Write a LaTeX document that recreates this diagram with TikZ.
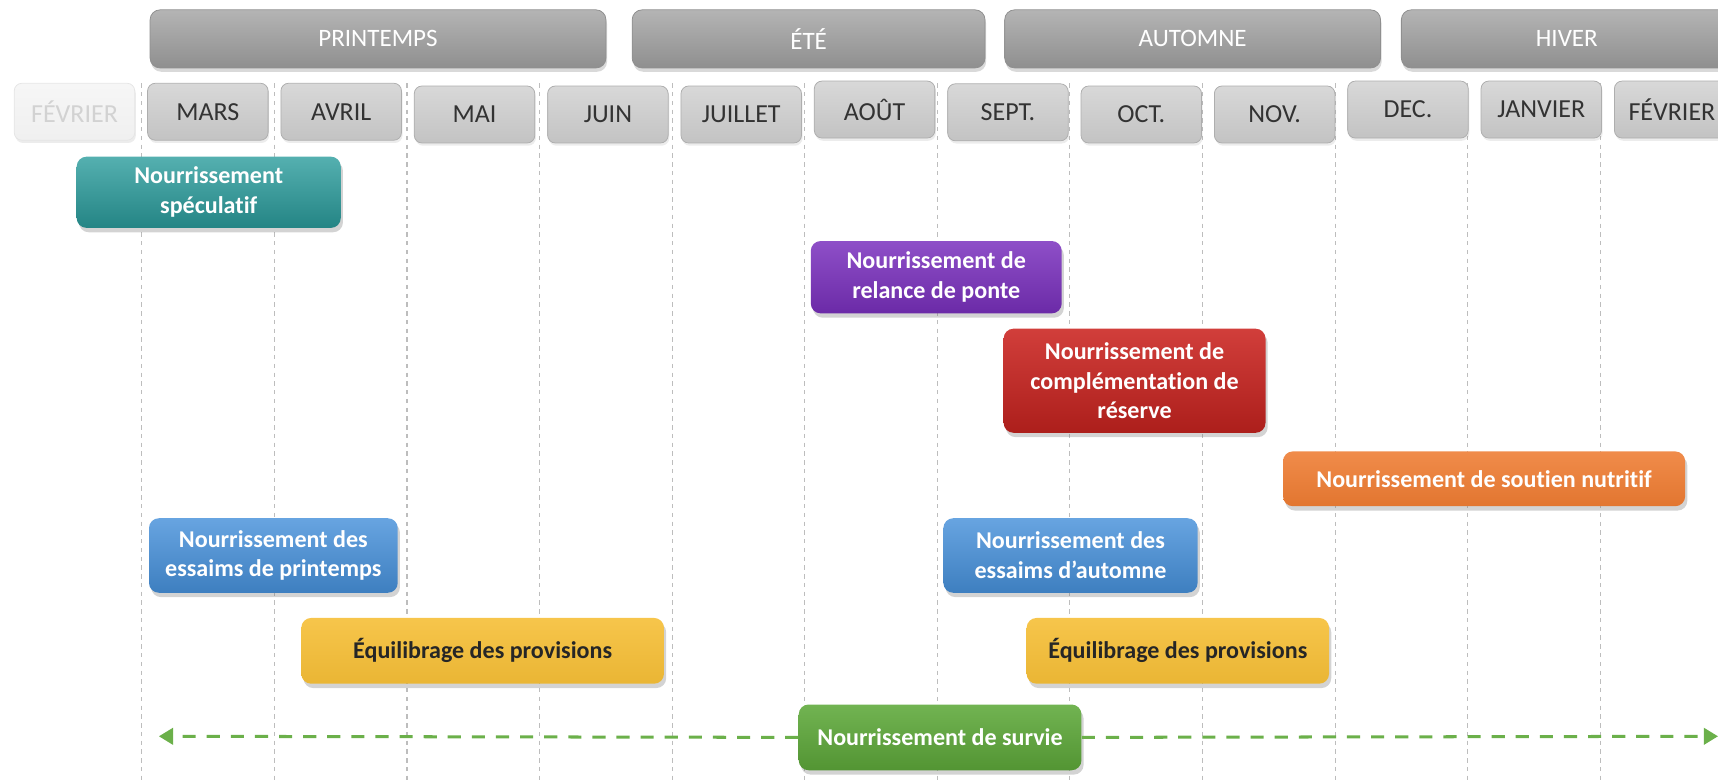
\documentclass[tikz,border=0pt]{standalone}
\usepackage{fontspec}
\setmainfont{Carlito}[Ligatures=NoCommon]
\usetikzlibrary{positioning,arrows.meta,shadows}

\definecolor{saisonhaut}{HTML}{B4B4B4}
\definecolor{saisonbas}{HTML}{8F8F8F}
\definecolor{moishaut}{HTML}{D8D8D8}
\definecolor{moisbas}{HTML}{C3C3C3}
\definecolor{moisbord}{HTML}{AEAEAE}
\definecolor{gristexte}{HTML}{333333}
\definecolor{grisgrille}{HTML}{BDBDBD}
\definecolor{sarcelle}{HTML}{2A9C9C}
\definecolor{violet}{HTML}{7A30BE}
\definecolor{rouge}{HTML}{CB2420}
\definecolor{orange}{HTML}{EE7C32}
\definecolor{bleu}{HTML}{4690DA}
\definecolor{jaune}{HTML}{F6BF37}
\definecolor{vert}{HTML}{5EA93A}
\definecolor{vertfleche}{HTML}{6BB04A}

\begin{document}
\begin{tikzpicture}[x=0.2mm,y=-0.2mm,
	saison/.style={rounded corners=1.8mm,top color=saisonhaut,bottom color=saisonbas,draw=saisonbas,
		minimum height=10.6mm,inner sep=0pt,drop shadow={shadow xshift=0.2mm,shadow yshift=-0.7mm,opacity=0.3}},
	mois/.style={rounded corners=1.4mm,top color=moishaut,bottom color=moisbas,draw=moisbord,text=gristexte,
		minimum width=22mm,minimum height=10.4mm,inner sep=0pt,font=\fontsize{13.5}{15}\selectfont,
		drop shadow={shadow xshift=0.2mm,shadow yshift=-0.5mm,opacity=0.15}},
	action/.style={rounded corners=1.8mm,text=white,align=center,inner sep=0pt,
		font=\fontsize{12.5}{15.5}\selectfont\bfseries,
		drop shadow={shadow xshift=0.4mm,shadow yshift=-0.8mm,opacity=0.35}},
	grille/.style={draw=grisgrille,line width=0.2mm,dash pattern=on 0.8mm off 0.8mm},
	fleche/.style={draw=vertfleche,line width=0.55mm,dash pattern=on 2.4mm off 2mm,-{Triangle[length=2.6mm,width=3mm]}}
	]
	\useasboundingbox (0,0) rectangle (1568,713);

	% lignes des mois
	\draw[grille] (129.5,76) -- (129.5,713) (250.5,76) -- (250.5,713) (371.5,76) -- (371.5,713)
		(492.5,76) -- (492.5,713) (613.5,76) -- (613.5,713) (734.5,76) -- (734.5,713)
		(855.5,76) -- (855.5,713) (976.5,76) -- (976.5,713) (1097.5,76) -- (1097.5,713)
		(1218.5,76) -- (1218.5,713) (1339.5,76) -- (1339.5,713) (1460.5,76) -- (1460.5,713);

	% saisons
	\node[saison,minimum width=83.2mm,text=white,font=\fontsize{13}{15}\selectfont] (printemps) at (345,35.5) {PRINTEMPS};
	\node[saison,minimum width=64.4mm,text=white,font=\fontsize{13}{15}\selectfont] (ete) at (738,35.5) {ÉTÉ};
	\node[saison,minimum width=68.6mm,text=white,font=\fontsize{13}{15}\selectfont] (automne) at (1088.5,35.5) {AUTOMNE};
	\node[saison,minimum width=92.2mm] (hiver) at (1509.5,35.5) {};
	\node[text=white,font=\fontsize{13}{15}\selectfont] (hivertexte) at (1430,35.5) {HIVER};

	% mois
	\node[mois,top color=white!93!gray,bottom color=white!88!gray,draw=white!80!gray,text=white!65!gray] (fevrier) at (68,102) {FÉVRIER};
	\node[mois,right=2.2mm of fevrier] (mars) {MARS};
	\node[mois,right=2.2mm of mars] (avril) {AVRIL};
	\node[mois,right=2.2mm of avril,yshift=-0.5mm] (mai) {MAI};
	\node[mois,right=2.2mm of mai] (juin) {JUIN};
	\node[mois,right=2.2mm of juin] (juillet) {JUILLET};
	\node[mois,right=2.2mm of juillet,yshift=0.9mm] (aout) {AOÛT};
	\node[mois,right=2.2mm of aout,yshift=-0.5mm] (sept) {SEPT.};
	\node[mois,right=2.2mm of sept,yshift=-0.4mm] (oct) {OCT.};
	\node[mois,right=2.2mm of oct] (nov) {NOV.};
	\node[mois,right=2.2mm of nov,yshift=0.9mm] (dec) {DEC.};
	\node[mois,right=2.2mm of dec] (janvier) {JANVIER};
	\node[mois,right=2.2mm of janvier,minimum width=21mm] (fevrier2) {FÉVRIER};

	% nourrissements
	\node[action,top color=sarcelle!80!white,bottom color=sarcelle!85!black,minimum width=48.2mm,minimum height=13mm] (speculatif) at (190.5,175.5) {Nourrissement\\spéculatif};
	\node[action,top color=violet!85!white,bottom color=violet!88!black,minimum width=45.8mm,minimum height=13.2mm] (relance) at (854.5,253) {Nourrissement de\\relance de ponte};
	\node[action,top color=rouge!88!white,bottom color=rouge!85!black,minimum width=47.8mm,minimum height=19mm] (reserve) at (1035.5,347.5) {Nourrissement de\\complémentation de\\réserve};
	\node[action,top color=orange!88!white,bottom color=orange!95!black,minimum width=73.4mm,minimum height=10mm] (soutien) at (1354.5,437) {Nourrissement de soutien nutritif};
	\node[action,top color=bleu!82!white,bottom color=bleu!88!black,minimum width=45.4mm,minimum height=13.6mm] (essaimsp) at (249.5,507) {Nourrissement des\\essaims de printemps};
	\node[action,top color=bleu!82!white,bottom color=bleu!88!black,minimum width=46.4mm,minimum height=13.6mm] (essaimsa) at (977,507) {Nourrissement des\\essaims d’automne};
	\node[action,top color=jaune!90!white,bottom color=jaune!95!black,text=black!85,minimum width=66.2mm,minimum height=12mm] (equilibre1) at (440.5,594) {Équilibrage des provisions};
	\node[action,top color=jaune!90!white,bottom color=jaune!95!black,text=black!85,minimum width=55.2mm,minimum height=12mm] (equilibre2) at (1075,594) {Équilibrage des provisions};
	\node[action,top color=vert!88!white,bottom color=vert!88!black,minimum width=51.6mm,minimum height=12mm] (survie) at (858,673) {Nourrissement de survie};

	\coordinate (gauche) at (145,672);
	\coordinate (droite) at (1568,672);
	\draw[fleche] (survie.west) -- (gauche);
	\draw[fleche] (survie.east) -- (droite);
\end{tikzpicture}
\end{document}
